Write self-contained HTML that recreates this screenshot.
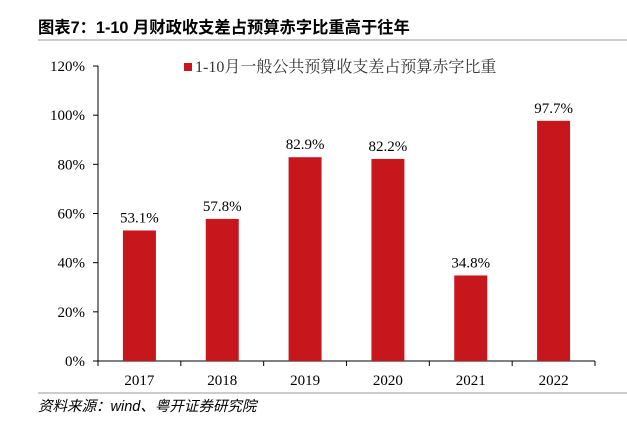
<!DOCTYPE html>
<html><head><meta charset="utf-8"><style>
body{margin:0;width:627px;height:416px;background:#fff;overflow:hidden;font-family:"Liberation Serif","Noto Serif CJK SC",serif;}
</style></head><body>
<svg width="627" height="416" xmlns="http://www.w3.org/2000/svg">
<text x="38" y="33" font-family="Liberation Sans,Noto Sans CJK SC,sans-serif" font-weight="bold" font-size="16.3" fill="#000">图表7：1-10 月财政收支差占预算赤字比重高于往年</text>
<line x1="38" y1="40" x2="627" y2="40" stroke="#bbb" stroke-width="1.5"/>
<g id="axes"></g>
<g id="bars"></g>
<rect x="184" y="63" width="8" height="8" fill="#c8161d"/>
<text x="195" y="72" font-size="16" fill="#333">1-10月一般公共预算收支差占预算赤字比重</text>
<line x1="38" y1="393" x2="627" y2="393" stroke="#bbb" stroke-width="1.5"/>
<text x="38" y="411" font-family="Liberation Sans,Noto Sans CJK SC,sans-serif" font-style="italic" font-size="14.5" fill="#000">资料来源：wind、粤开证券研究院</text>
</svg>
<script>
const categories=["2017","2018","2019","2020","2021","2022"];
const values=[53.1,57.8,82.9,82.2,34.8,97.7];
const valueLabels=["53.1%","57.8%","82.9%","82.2%","34.8%","97.7%"];
const yTicks=[0,20,40,60,80,100,120];
const NS="http://www.w3.org/2000/svg";
const x0=98,x1=595,yb=361,yt=66,bw=33;
const band=(x1-x0)/categories.length;
const y=v=>yb-(v/120)*(yb-yt);
const xc=i=>x0+band*(i+0.5);
function mk(t,a,p){const e=document.createElementNS(NS,t);for(const k in a)e.setAttribute(k,a[k]);p.appendChild(e);return e;}
const ax=document.getElementById('axes'),bg=document.getElementById('bars');
let l=mk('line',{x1:x0,y1:yt,x2:x0,y2:yb,stroke:'#000'},ax);


l=mk('line',{x1:x0,y1:yb,x2:x1,y2:yb,stroke:'#000'},ax);


yTicks.forEach(v=>{
 const t=mk('line',{x1:x0-5,y1:y(v),x2:x0,y2:y(v),stroke:'#000'},ax);
 
 
 const tx=mk('text',{x:x0-13,y:y(v)+5,'text-anchor':'end','font-size':'15',fill:'#000'},ax);
 tx.textContent=v+'%';
 
 
});
for(let i=0;i<=categories.length;i++){
 const t=mk('line',{x1:x0+band*i,y1:yb,x2:x0+band*i,y2:yb+5,stroke:'#000'},ax);
 
 
}
categories.forEach((c,i)=>{
 const r=mk('rect',{x:xc(i)-bw/2,y:y(values[i]),width:bw,height:yb-y(values[i]),fill:'#c8161d'},bg);
 
 
 const vt=mk('text',{x:xc(i),y:y(values[i])-8,'text-anchor':'middle','font-size':'15',fill:'#000'},bg);
 vt.textContent=valueLabels[i];
 
 
 const ct=mk('text',{x:xc(i),y:yb+24,'text-anchor':'middle','font-size':'15',fill:'#000'},bg);
 ct.textContent=c;
 
 
});
</script>
</body></html>
